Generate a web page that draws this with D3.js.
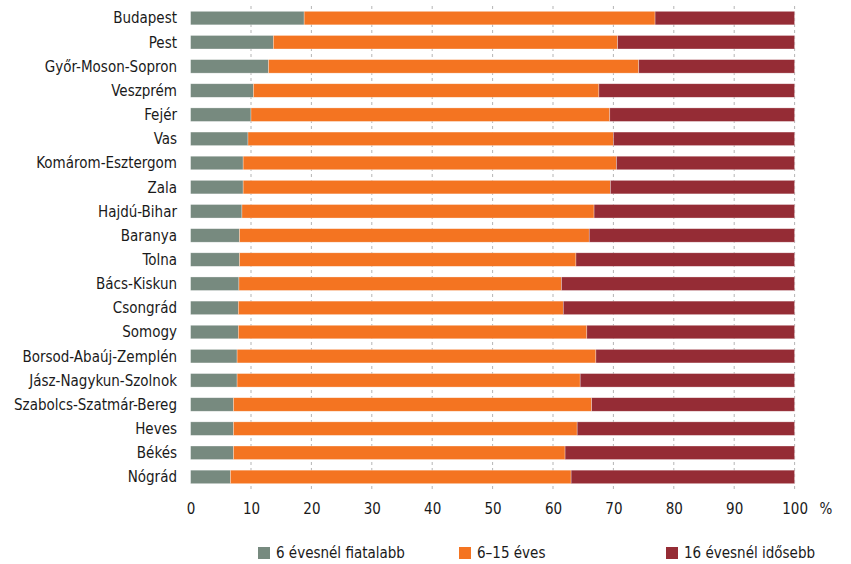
<!DOCTYPE html>
<html>
<head>
<meta charset="utf-8">
<script src="https://cdn.jsdelivr.net/npm/d3@7"></script>
<style>
  body { margin: 0; background: #fff; }
  text { font-family: "DejaVu Sans Condensed", "Liberation Sans Narrow", sans-serif; fill: #1a1a1a; }
</style>
</head>
<body>
<script>
var counties = ["Budapest", "Pest", "Győr-Moson-Sopron", "Veszprém", "Fejér", "Vas",
  "Komárom-Esztergom", "Zala", "Hajdú-Bihar", "Baranya", "Tolna", "Bács-Kiskun",
  "Csongrád", "Somogy", "Borsod-Abaúj-Zemplén", "Jász-Nagykun-Szolnok",
  "Szabolcs-Szatmár-Bereg", "Heves", "Békés", "Nógrád"];

var young = [18.8, 13.7, 12.9, 10.4, 10.0, 9.5, 8.7, 8.7, 8.5, 8.1, 8.1, 8.0, 7.9, 7.9, 7.7, 7.7, 7.1, 7.1, 7.1, 6.6];
var middle = [58.1, 57.0, 61.3, 57.2, 59.4, 60.5, 61.8, 60.8, 58.3, 57.9, 55.7, 53.4, 53.8, 57.7, 59.4, 56.8, 59.3, 56.9, 54.9, 56.4];
var old = [23.1, 29.3, 25.8, 32.4, 30.6, 30.0, 29.5, 30.5, 33.2, 34.0, 36.2, 38.6, 38.3, 34.4, 32.9, 35.5, 33.6, 36.0, 38.0, 37.0];

var seriesNames = ["6 évesnél fiatalabb", "6–15 éves", "16 évesnél idősebb"];
var colors = ["#778a7f", "#f47421", "#952c35"];
var xTicks = [0, 10, 20, 30, 40, 50, 60, 70, 80, 90, 100];

var w = 851, h = 564;

var svg = d3.select("body").append("svg")
  .attr("width", w)
  .attr("height", h);

var x = d3.scaleLinear().domain([0, 100]).range([190.6, 794.6]);
var y = d3.scaleBand().domain(counties).range([6, 489]).paddingInner(0.44).paddingOuter(0.22);

var rows = counties.map(function(c, i) {
  return {county: c, v0: young[i], v1: middle[i], v2: old[i]};
});
var stacked = d3.stack().keys(["v0", "v1", "v2"])(rows);

/* gridlines */
svg.append("g")
  .selectAll("line")
  .data(xTicks.slice(1))
  .join("line")
  .attr("x1", function(d) { return x(d); })
  .attr("x2", function(d) { return x(d); })
  .attr("y1", 6)
  .attr("y2", 492)
  .attr("stroke", "#b5b5b5")
  .attr("stroke-width", 1)
  .attr("stroke-dasharray", "3,3");

/* bars */
svg.append("g")
  .selectAll("g")
  .data(stacked)
  .join("g")
  .attr("fill", function(d, i) { return colors[i]; })
  .selectAll("rect")
  .data(function(d) { return d; })
  .join("rect")
  .attr("x", function(d) { return x(d[0]); })
  .attr("width", function(d) { return x(d[1]) - x(d[0]); })
  .attr("y", function(d) { return y(d.data.county); })
  .attr("height", y.bandwidth())
  .attr("stroke", "#fff")
  .attr("stroke-opacity", 0.5)
  .attr("stroke-width", 0.6);

/* category labels */
svg.append("g")
  .selectAll("text")
  .data(counties)
  .join("text")
  .attr("x", 177)
  .attr("y", function(d) { return y(d) + y.bandwidth() / 2; })
  .attr("dy", "0.36em")
  .attr("text-anchor", "end")
  .style("font-size", "15px")
  .text(function(d) { return d; });

/* x axis labels */
var xAxis = d3.axisBottom(x).tickValues(xTicks).tickSize(0).tickPadding(0);
var gx = svg.append("g")
  .attr("transform", "translate(0,503)")
  .call(xAxis);
gx.select(".domain").remove();
gx.selectAll("text")
  .attr("dy", "0.71em")
  .style("font-size", "15px")
  .style("font-family", null);

svg.append("text")
  .attr("x", 826)
  .attr("y", 514)
  .attr("text-anchor", "middle")
  .style("font-size", "15px")
  .text("%");

/* legend */
var legX = [258, 459, 666];
var leg = svg.append("g")
  .selectAll("g")
  .data(seriesNames)
  .join("g")
  .attr("transform", function(d, i) { return "translate(" + legX[i] + ",547)"; });
leg.append("rect")
  .attr("width", 12)
  .attr("height", 12)
  .attr("fill", function(d, i) { return colors[i]; });
leg.append("text")
  .attr("x", 18)
  .attr("y", 6)
  .attr("dy", "0.36em")
  .style("font-size", "15px")
  .text(function(d) { return d; });
</script>
</body>
</html>
